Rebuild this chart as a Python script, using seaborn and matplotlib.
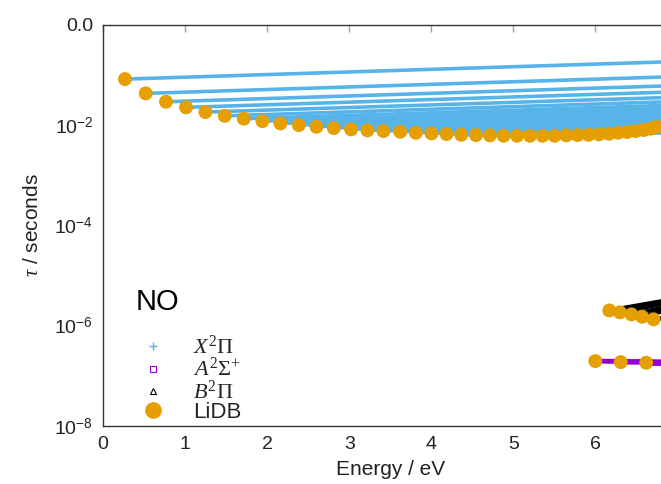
# =========================
# BIBLIOTECAS
# =========================
import matplotlib
matplotlib.use("Agg")
import pandas as pd
import matplotlib.pyplot as plt
from matplotlib.lines import Line2D
import seaborn as sns


# =========================
# DADOS
# =========================
# X2Pi: início de cada banda (pontos LiDB) e tempo de vida no fim da banda
x_energia = [0.268, 0.521, 0.768, 1.012, 1.248, 1.484, 1.716, 1.943, 2.162, 2.387,
             2.601, 2.813, 3.024, 3.223, 3.418, 3.622, 3.813, 4.004, 4.187, 4.366,
             4.545, 4.716, 4.882, 5.045, 5.204, 5.357, 5.504, 5.646, 5.784, 5.918,
             6.045, 6.167, 6.277, 6.387, 6.491, 6.589, 6.671, 6.744]
x_tau = [0.0826, 0.0429, 0.0292, 0.0226, 0.0182, 0.0153, 0.0134, 0.0120, 0.0108, 0.0100,
         0.00926, 0.00873, 0.00822, 0.00785, 0.00760, 0.00736, 0.00703, 0.00684, 0.00662, 0.00641,
         0.00632, 0.00624, 0.00612, 0.00612, 0.00612, 0.00612, 0.00612, 0.00624, 0.00632, 0.00641,
         0.00653, 0.00671, 0.00703, 0.00726, 0.00760, 0.00796, 0.00845, 0.00926]
x_tau_fim = [0.181, 0.0906, 0.0600, 0.0451, 0.0352, 0.0289, 0.0245, 0.0214, 0.0189, 0.0170,
             0.0153, 0.0141, 0.0129, 0.0120, 0.0114, 0.0108, 0.0100, 0.00955, 0.00904, 0.00857,
             0.00826, 0.00800, 0.00771, 0.00753, 0.00743, 0.00726, 0.00716, 0.00716, 0.00716, 0.00714,
             0.00716, 0.00720, 0.00745, 0.00760, 0.00784, 0.00810, 0.00857, 0.00930]

# A2Sigma+
a_energia = [6.00, 6.31, 6.62]
a_tau = [1.97e-7, 1.88e-7, 1.83e-7]
a_tau_fim = [1.90e-7, 1.86e-7, 1.83e-7]

# B2Pi
b_energia = [6.17, 6.30, 6.44, 6.57, 6.71]
b_tau = [2.02e-6, 1.85e-6, 1.68e-6, 1.51e-6, 1.34e-6]
b_tau_fim = [3.07e-6, 2.69e-6, 2.24e-6, 1.90e-6, 1.40e-6]

energia_fim = 6.8

yticks = [1e-8, 1e-6, 1e-4, 1e-2, 1e0]
ytick_labels = [r"$10^{-8}$", r"$10^{-6}$", r"$10^{-4}$", r"$10^{-2}$", "0.0"]

azul = "#56b4e9"
roxo = "#9400d3"
laranja = "#e69f00"


# =========================
# CONFIG
# =========================
sns.set_theme(style="white")
plt.rcParams["font.family"] = ["Liberation Sans", "DejaVu Sans"]
plt.rcParams["mathtext.fontset"] = "custom"
plt.rcParams["mathtext.rm"] = "Liberation Sans"
plt.rcParams["mathtext.it"] = "Liberation Serif:italic"
plt.rcParams["mathtext.sf"] = "Liberation Serif"


def monta_bandas(e_ini, t_ini, t_fim):
    linhas = []
    for i, (e, t0, t1) in enumerate(zip(e_ini, t_ini, t_fim)):
        linhas.append({"banda": i, "energia": e, "tau": t0})
        linhas.append({"banda": i, "energia": energia_fim, "tau": t1})
    return pd.DataFrame(linhas)


df_x = monta_bandas(x_energia, x_tau, x_tau_fim)
df_a = monta_bandas(a_energia, a_tau, a_tau_fim)
df_b = monta_bandas(b_energia, b_tau, b_tau_fim)

df_lidb = pd.DataFrame({
    "energia": x_energia + a_energia + b_energia,
    "tau": x_tau + a_tau + b_tau,
})


# =========================
# FIGURA
# =========================
fig = plt.figure(figsize=(6.61, 4.84), dpi=100)
ax = fig.add_axes([0.1558, 0.1198, 0.869, 0.829])

sns.lineplot(data=df_x, x="energia", y="tau", units="banda", estimator=None,
             color=azul, linewidth=2.6, ax=ax)
sns.lineplot(data=df_a, x="energia", y="tau", units="banda", estimator=None,
             color=roxo, linewidth=3.5, ax=ax)
sns.lineplot(data=df_b, x="energia", y="tau", units="banda", estimator=None,
             color="black", linewidth=3.0, ax=ax)
sns.scatterplot(data=df_lidb, x="energia", y="tau", color=laranja, s=100,
                edgecolor="none", zorder=5, ax=ax)

ax.set_yscale("log")
ax.set_xlim(0, 7)
ax.set_ylim(1e-8, 1)
ax.set_xticks(range(0, 7))
ax.set_yticks(yticks)
ax.set_yticklabels(ytick_labels)
ax.minorticks_off()

ax.tick_params(axis="both", direction="in", length=5, width=1, color="#a0a0a0",
               labelsize=14, pad=7, labelcolor="#222222", top=True)
for lado in ["left", "bottom", "top"]:
    ax.spines[lado].set_color("#333333")
    ax.spines[lado].set_linewidth(1.0)

ax.set_xlabel("Energy / eV", fontsize=15, color="#222222", labelpad=5)
ax.set_ylabel(r"$\tau$ / seconds", fontsize=15, color="#222222", labelpad=9)

fig.text(136 / 661, 1 - 310 / 484, "NO", fontsize=21, va="baseline", color="black")

handles = [
    Line2D([], [], ls="none", marker="+", color=azul, ms=6, mew=1),
    Line2D([], [], ls="none", marker="s", mfc="none", mec=roxo, ms=5, mew=0.8),
    Line2D([], [], ls="none", marker="^", mfc="none", mec="black", ms=5, mew=0.8),
    Line2D([], [], ls="none", marker="o", color=laranja, ms=11),
]
labels = [r"$X^{\mathsf{2}}\mathsf{\Pi}$", r"$A^{\mathsf{2}}\mathsf{\Sigma}^{\mathsf{+}}$",
          r"$B^{\mathsf{2}}\mathsf{\Pi}$", "LiDB"]
ax.legend(handles, labels, loc="upper left", bbox_to_anchor=(135 / 661, 1 - 336 / 484),
          bbox_transform=fig.transFigure, frameon=False, fontsize=16,
          handlelength=1.6, handletextpad=1.0, borderpad=0, borderaxespad=0,
          labelspacing=-0.05)

plt.savefig("out.png", dpi=100)
